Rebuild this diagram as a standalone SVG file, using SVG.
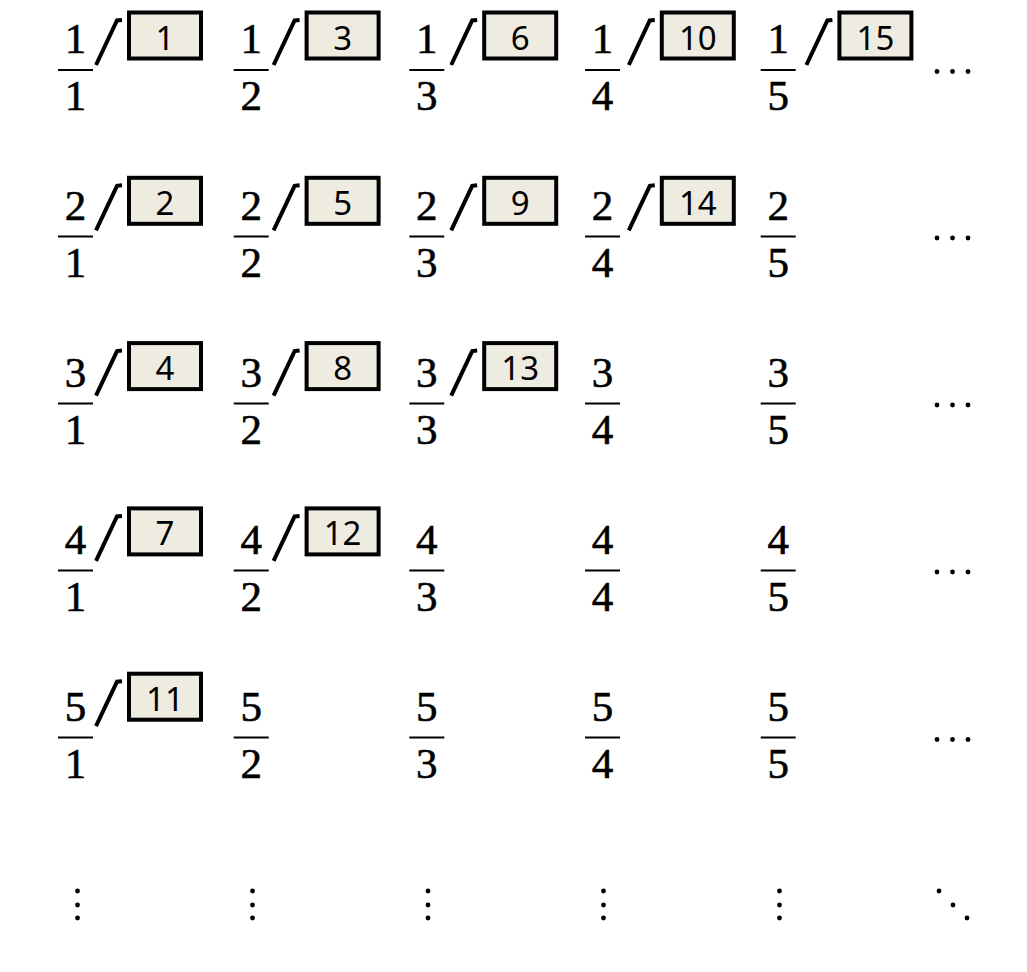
<svg xmlns="http://www.w3.org/2000/svg" width="1027" height="972" viewBox="0 0 1027 972">
<style>
.fr{font-family:"Liberation Serif","DejaVu Serif",serif;font-size:43px;fill:#000;stroke:#000;stroke-width:0.6;text-anchor:middle}
.bar{stroke:#000;stroke-width:2.2}
.box{fill:#EEEBE1;stroke:#000;stroke-width:4}
.bt{font-family:"Noto Sans","Open Sans","Liberation Sans",sans-serif;font-size:33px;fill:#000;text-anchor:middle}
.sl{fill:none;stroke:#000;stroke-width:4;stroke-linejoin:miter;stroke-linecap:butt}
.dot{fill:#000}
</style>
<rect width="1027" height="972" fill="#fff"/>
<g id="fractions">
<g id="f11"><text class="fr" x="75.5" y="53">1</text><line class="bar" x1="58" y1="70" x2="93" y2="70"/><text class="fr" x="75.5" y="110">1</text></g>
<g id="f12"><text class="fr" x="251.2" y="53">1</text><line class="bar" x1="233.7" y1="70" x2="268.7" y2="70"/><text class="fr" x="251.2" y="110">2</text></g>
<g id="f13"><text class="fr" x="426.8" y="53">1</text><line class="bar" x1="409.3" y1="70" x2="444.3" y2="70"/><text class="fr" x="426.8" y="110">3</text></g>
<g id="f14"><text class="fr" x="602.5" y="53">1</text><line class="bar" x1="585" y1="70" x2="620" y2="70"/><text class="fr" x="602.5" y="110">4</text></g>
<g id="f15"><text class="fr" x="778.2" y="53">1</text><line class="bar" x1="760.7" y1="70" x2="795.7" y2="70"/><text class="fr" x="778.2" y="110">5</text></g>

<g id="f21"><text class="fr" x="75.5" y="219.5">2</text><line class="bar" x1="58" y1="236.5" x2="93" y2="236.5"/><text class="fr" x="75.5" y="276.5">1</text></g>
<g id="f22"><text class="fr" x="251.2" y="219.5">2</text><line class="bar" x1="233.7" y1="236.5" x2="268.7" y2="236.5"/><text class="fr" x="251.2" y="276.5">2</text></g>
<g id="f23"><text class="fr" x="426.8" y="219.5">2</text><line class="bar" x1="409.3" y1="236.5" x2="444.3" y2="236.5"/><text class="fr" x="426.8" y="276.5">3</text></g>
<g id="f24"><text class="fr" x="602.5" y="219.5">2</text><line class="bar" x1="585" y1="236.5" x2="620" y2="236.5"/><text class="fr" x="602.5" y="276.5">4</text></g>
<g id="f25"><text class="fr" x="778.2" y="219.5">2</text><line class="bar" x1="760.7" y1="236.5" x2="795.7" y2="236.5"/><text class="fr" x="778.2" y="276.5">5</text></g>

<g id="f31"><text class="fr" x="75.5" y="386.5">3</text><line class="bar" x1="58" y1="403.5" x2="93" y2="403.5"/><text class="fr" x="75.5" y="443.5">1</text></g>
<g id="f32"><text class="fr" x="251.2" y="386.5">3</text><line class="bar" x1="233.7" y1="403.5" x2="268.7" y2="403.5"/><text class="fr" x="251.2" y="443.5">2</text></g>
<g id="f33"><text class="fr" x="426.8" y="386.5">3</text><line class="bar" x1="409.3" y1="403.5" x2="444.3" y2="403.5"/><text class="fr" x="426.8" y="443.5">3</text></g>
<g id="f34"><text class="fr" x="602.5" y="386.5">3</text><line class="bar" x1="585" y1="403.5" x2="620" y2="403.5"/><text class="fr" x="602.5" y="443.5">4</text></g>
<g id="f35"><text class="fr" x="778.2" y="386.5">3</text><line class="bar" x1="760.7" y1="403.5" x2="795.7" y2="403.5"/><text class="fr" x="778.2" y="443.5">5</text></g>

<g id="f41"><text class="fr" x="75.5" y="553.5">4</text><line class="bar" x1="58" y1="570.5" x2="93" y2="570.5"/><text class="fr" x="75.5" y="610.5">1</text></g>
<g id="f42"><text class="fr" x="251.2" y="553.5">4</text><line class="bar" x1="233.7" y1="570.5" x2="268.7" y2="570.5"/><text class="fr" x="251.2" y="610.5">2</text></g>
<g id="f43"><text class="fr" x="426.8" y="553.5">4</text><line class="bar" x1="409.3" y1="570.5" x2="444.3" y2="570.5"/><text class="fr" x="426.8" y="610.5">3</text></g>
<g id="f44"><text class="fr" x="602.5" y="553.5">4</text><line class="bar" x1="585" y1="570.5" x2="620" y2="570.5"/><text class="fr" x="602.5" y="610.5">4</text></g>
<g id="f45"><text class="fr" x="778.2" y="553.5">4</text><line class="bar" x1="760.7" y1="570.5" x2="795.7" y2="570.5"/><text class="fr" x="778.2" y="610.5">5</text></g>

<g id="f51"><text class="fr" x="75.5" y="720.5">5</text><line class="bar" x1="58" y1="737.5" x2="93" y2="737.5"/><text class="fr" x="75.5" y="777.5">1</text></g>
<g id="f52"><text class="fr" x="251.2" y="720.5">5</text><line class="bar" x1="233.7" y1="737.5" x2="268.7" y2="737.5"/><text class="fr" x="251.2" y="777.5">2</text></g>
<g id="f53"><text class="fr" x="426.8" y="720.5">5</text><line class="bar" x1="409.3" y1="737.5" x2="444.3" y2="737.5"/><text class="fr" x="426.8" y="777.5">3</text></g>
<g id="f54"><text class="fr" x="602.5" y="720.5">5</text><line class="bar" x1="585" y1="737.5" x2="620" y2="737.5"/><text class="fr" x="602.5" y="777.5">4</text></g>
<g id="f55"><text class="fr" x="778.2" y="720.5">5</text><line class="bar" x1="760.7" y1="737.5" x2="795.7" y2="737.5"/><text class="fr" x="778.2" y="777.5">5</text></g>
</g>

<g id="connectors">
<polyline class="sl" points="96,65 117,20.5 122,20"/>
<polyline class="sl" points="273.6,65 294.6,20.5 299.6,20"/>
<polyline class="sl" points="451.2,65 472.2,20.5 477.2,20"/>
<polyline class="sl" points="628.8,65 649.8,20.5 654.8,20"/>
<polyline class="sl" points="806.4,65 827.4,20.5 832.4,20"/>

<polyline class="sl" points="96,230.3 117,185.8 122,185.3"/>
<polyline class="sl" points="273.6,230.3 294.6,185.8 299.6,185.3"/>
<polyline class="sl" points="451.2,230.3 472.2,185.8 477.2,185.3"/>
<polyline class="sl" points="628.8,230.3 649.8,185.8 654.8,185.3"/>

<polyline class="sl" points="96,395.6 117,351.1 122,350.6"/>
<polyline class="sl" points="273.6,395.6 294.6,351.1 299.6,350.6"/>
<polyline class="sl" points="451.2,395.6 472.2,351.1 477.2,350.6"/>

<polyline class="sl" points="96,560.9 117,516.4 122,515.9"/>
<polyline class="sl" points="273.6,560.9 294.6,516.4 299.6,515.9"/>

<polyline class="sl" points="96,726.2 117,681.7 122,681.2"/>
</g>

<g id="b1"><rect class="box" x="129" y="12.5" width="72" height="46"/><text class="bt" x="165" y="49.5">1</text></g>
<g id="b3"><rect class="box" x="306.6" y="12.5" width="72" height="46"/><text class="bt" x="342.6" y="49.5">3</text></g>
<g id="b6"><rect class="box" x="484.2" y="12.5" width="72" height="46"/><text class="bt" x="520.2" y="49.5">6</text></g>
<g id="b10"><rect class="box" x="661.8" y="12.5" width="72" height="46"/><text class="bt" x="697.8" y="49.5">10</text></g>
<g id="b15"><rect class="box" x="839.4" y="12.5" width="72" height="46"/><text class="bt" x="875.4" y="49.5">15</text></g>

<g id="b2"><rect class="box" x="129" y="177.8" width="72" height="46"/><text class="bt" x="165" y="214.8">2</text></g>
<g id="b5"><rect class="box" x="306.6" y="177.8" width="72" height="46"/><text class="bt" x="342.6" y="214.8">5</text></g>
<g id="b9"><rect class="box" x="484.2" y="177.8" width="72" height="46"/><text class="bt" x="520.2" y="214.8">9</text></g>
<g id="b14"><rect class="box" x="661.8" y="177.8" width="72" height="46"/><text class="bt" x="697.8" y="214.8">14</text></g>

<g id="b4"><rect class="box" x="129" y="343.1" width="72" height="46"/><text class="bt" x="165" y="380.1">4</text></g>
<g id="b8"><rect class="box" x="306.6" y="343.1" width="72" height="46"/><text class="bt" x="342.6" y="380.1">8</text></g>
<g id="b13"><rect class="box" x="484.2" y="343.1" width="72" height="46"/><text class="bt" x="520.2" y="380.1">13</text></g>

<g id="b7"><rect class="box" x="129" y="508.4" width="72" height="46"/><text class="bt" x="165" y="545.4">7</text></g>
<g id="b12"><rect class="box" x="306.6" y="508.4" width="72" height="46"/><text class="bt" x="342.6" y="545.4">12</text></g>

<g id="b11"><rect class="box" x="129" y="673.7" width="72" height="46"/><text class="bt" x="165" y="710.7">11</text></g>

<g id="ellipses">
<circle class="dot" cx="937" cy="71.5" r="2.4"/><circle class="dot" cx="952.5" cy="71.5" r="2.4"/><circle class="dot" cx="968" cy="71.5" r="2.4"/>
<circle class="dot" cx="937" cy="238" r="2.4"/><circle class="dot" cx="952.5" cy="238" r="2.4"/><circle class="dot" cx="968" cy="238" r="2.4"/>
<circle class="dot" cx="937" cy="405" r="2.4"/><circle class="dot" cx="952.5" cy="405" r="2.4"/><circle class="dot" cx="968" cy="405" r="2.4"/>
<circle class="dot" cx="937" cy="572" r="2.4"/><circle class="dot" cx="952.5" cy="572" r="2.4"/><circle class="dot" cx="968" cy="572" r="2.4"/>
<circle class="dot" cx="937" cy="739.5" r="2.4"/><circle class="dot" cx="952.5" cy="739.5" r="2.4"/><circle class="dot" cx="968" cy="739.5" r="2.4"/>

<circle class="dot" cx="77.5" cy="891" r="2.4"/><circle class="dot" cx="77.5" cy="905" r="2.4"/><circle class="dot" cx="77.5" cy="918" r="2.4"/>
<circle class="dot" cx="252.5" cy="891" r="2.4"/><circle class="dot" cx="252.5" cy="905" r="2.4"/><circle class="dot" cx="252.5" cy="918" r="2.4"/>
<circle class="dot" cx="428" cy="891" r="2.4"/><circle class="dot" cx="428" cy="905" r="2.4"/><circle class="dot" cx="428" cy="918" r="2.4"/>
<circle class="dot" cx="603.5" cy="891" r="2.4"/><circle class="dot" cx="603.5" cy="905" r="2.4"/><circle class="dot" cx="603.5" cy="918" r="2.4"/>
<circle class="dot" cx="779.5" cy="891" r="2.4"/><circle class="dot" cx="779.5" cy="905" r="2.4"/><circle class="dot" cx="779.5" cy="918" r="2.4"/>

<circle class="dot" cx="939" cy="891" r="2.4"/><circle class="dot" cx="953" cy="905" r="2.4"/><circle class="dot" cx="967" cy="918" r="2.4"/>
</g>
</svg>
